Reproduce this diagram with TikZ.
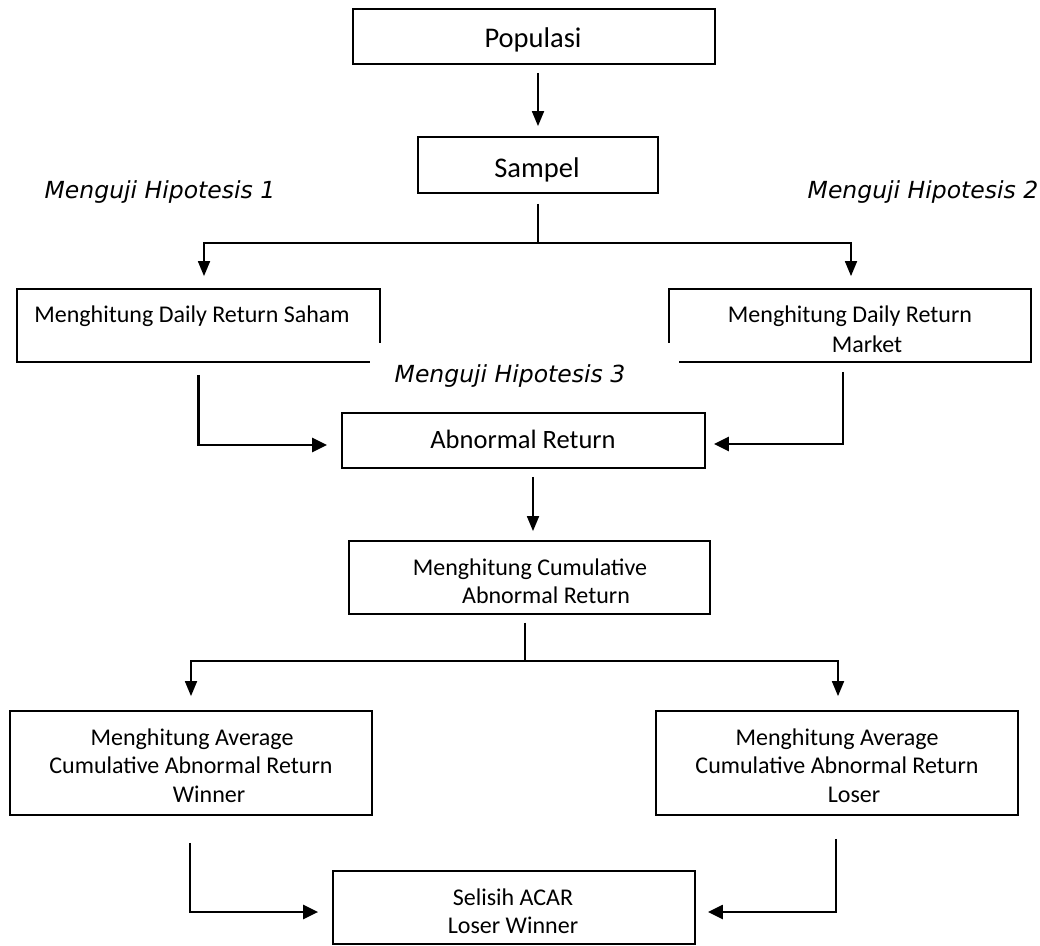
\documentclass[tikz,border=0pt]{standalone}
\usepackage{fontspec}
\setmainfont{Carlito}
\newfontfamily\hypfont{DejaVu Sans}
\usetikzlibrary{arrows.meta}
\begin{document}
\begin{tikzpicture}[x=1pt,y=-1pt,
  box/.style={draw=black,line width=1.8pt,rectangle,inner sep=0pt,fill=none},
  txt/.style={anchor=base,inner sep=0pt,font=\fontsize{24}{28}\selectfont},
  hyp/.style={anchor=base,inner sep=0pt,font=\hypfont\itshape\fontsize{23.5}{28}\selectfont},
  arr/.style={line width=1.8pt,-{Triangle[length=15pt,width=12pt]}},
  arrthick/.style={line width=2.4pt,-{Triangle[length=15pt,width=14pt]}}]
\useasboundingbox (0,0) rectangle (1040,945);
% boxes
\node[box,minimum width=362pt,minimum height=55pt] (pop) at (534,36.5) {};
\node[box,minimum width=240pt,minimum height=56pt] (samp) at (538,165) {};
\node[box,minimum width=363pt,minimum height=73pt] (ld) at (198.5,325.5) {};
\node[box,minimum width=362pt,minimum height=73pt] (rd) at (850,325.5) {};
\node[box,minimum width=363pt,minimum height=55pt] (ab) at (523.5,440.5) {};
\node[box,minimum width=361pt,minimum height=73pt] (cum) at (529.5,577.5) {};
\node[box,minimum width=362pt,minimum height=104pt] (la) at (191,763) {};
\node[box,minimum width=362pt,minimum height=104pt] (ra) at (837,763) {};
\node[box,minimum width=362pt,minimum height=73pt] (sel) at (514,907.5) {};
% texts
\node[txt,font=\fontsize{28.5}{32}\selectfont] (tpop) at (533,47) {Populasi};
\node[txt,font=\fontsize{28.5}{32}\selectfont] (tsamp) at (537,177) {Sampel};
\node[txt] (tld) at (192,322) {Menghitung Daily Return Saham};
\node[txt] (trd1) at (850,322) {Menghitung Daily Return};
\node[txt] (trd2) at (867,352) {Market};
\node[txt,font=\fontsize{26.5}{30}\selectfont] (tab) at (523,448) {Abnormal Return};
\node[txt] (tcum1) at (530,575) {Menghitung Cumulative};
\node[txt] (tcum2) at (546,603) {Abnormal Return};
\node[txt] (tla1) at (192,745) {Menghitung Average};
\node[txt] (tla2) at (191,773) {Cumulative Abnormal Return};
\node[txt] (tla3) at (209,802) {Winner};
\node[txt] (tra1) at (837,745) {Menghitung Average};
\node[txt] (tra2) at (837,773) {Cumulative Abnormal Return};
\node[txt] (tra3) at (854,802) {Loser};
\node[txt] (tsel1) at (513,905) {Selisih ACAR};
\node[txt] (tsel2) at (513,933) {Loser Winner};
% hypothesis labels
\node[hyp] (h1) at (160,198) {Menguji Hipotesis 1};
\node[hyp] (h2) at (923,198) {Menguji Hipotesis 2};
\fill[white] (370,343) rectangle (679,411.5);
\node[hyp] (h3) at (510,382) {Menguji Hipotesis 3};
% connectors
\draw[arr,shorten <=8pt,shorten >=10pt] ([xshift=4pt]pop.south) -- (samp.north);
\draw[arr,shorten <=10pt,shorten >=12pt] (samp.south) -- ++(0,49) -| ([xshift=5.5pt]ld.north);
\draw[arr,shorten <=10pt,shorten >=12pt] (samp.south) -- ++(0,49) -| ([xshift=1pt]rd.north);
\draw[arrthick,shorten <=12pt,shorten >=14pt] (ld.south) |- ([yshift=-4.5pt]ab.west);
\draw[arrthick,shorten <=9pt,shorten >=8pt] ([xshift=-7pt]rd.south) |- ([yshift=-3.5pt]ab.east);
\draw[arr,shorten <=8pt,shorten >=9pt] ([xshift=9.5pt]ab.south) -- ([xshift=3.5pt]cum.north);
\draw[arr,shorten <=8pt,shorten >=14pt] ([xshift=-4.5pt]cum.south) -- ++(0,46) -| (la.north);
\draw[arr,shorten <=8pt,shorten >=14pt] ([xshift=-4.5pt]cum.south) -- ++(0,46) -| ([xshift=1pt]ra.north);
\draw[arrthick,shorten <=27pt,shorten >=14pt] ([xshift=-1pt]la.south) |- ([yshift=-4.5pt]sel.west);
\draw[arrthick,shorten <=23pt,shorten >=12pt] ([xshift=-1pt]ra.south) |- ([yshift=-4.5pt]sel.east);
\end{tikzpicture}
\end{document}
